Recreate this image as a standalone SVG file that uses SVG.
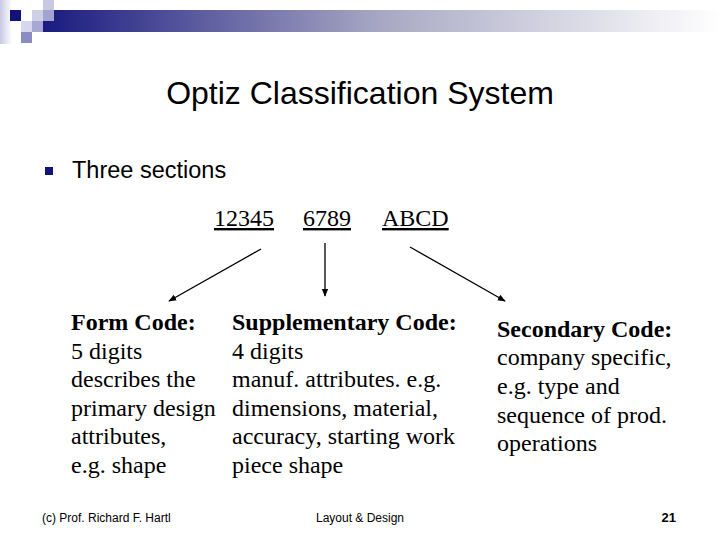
<svg xmlns="http://www.w3.org/2000/svg" width="720" height="540" viewBox="0 0 720 540">
<defs>
<linearGradient id="bar" x1="0" y1="0" x2="1" y2="0">
<stop offset="0" stop-color="#1a1a80"/>
<stop offset="0.5" stop-color="#a8a8c4"/>
<stop offset="1" stop-color="#ffffff"/>
</linearGradient>
<linearGradient id="side" x1="0" y1="0" x2="1" y2="0">
<stop offset="0" stop-color="#c8c8e4"/>
<stop offset="1" stop-color="#ffffff"/>
</linearGradient>
<marker id="ah" viewBox="0 0 10 10" refX="9" refY="5" markerWidth="8" markerHeight="8" markerUnits="userSpaceOnUse" orient="auto">
<path d="M0,1 L10,5 L0,9 z" fill="#000"/>
</marker>
<style>
.ti{font-family:"Liberation Sans",Arial,sans-serif;font-size:32px;fill:#000}
.bu{font-family:"Liberation Sans",Arial,sans-serif;font-size:23.5px;fill:#000}
.tm{font-family:"Liberation Serif","Times New Roman",serif;font-size:24px;fill:#000}
.b{font-weight:bold}
.u{text-decoration:underline}
.ft{font-family:"Liberation Sans",Arial,sans-serif;font-size:12px;fill:#000}
.pg{font-size:13px}
.cn line{stroke:#000;stroke-width:1.3;marker-end:url(#ah)}
</style>
</defs>
<rect width="720" height="540" fill="#fff"/>
<g id="header">
<rect x="0" y="0" width="12" height="44" fill="url(#side)"/>
<rect x="43" y="10" width="677" height="22" fill="url(#bar)"/>
<rect x="10" y="10" width="11" height="11" fill="#12127a"/>
<rect x="32" y="10" width="11" height="11" fill="#cfcfe8"/>
<rect x="43" y="0" width="11" height="10" fill="#c8c8e2"/>
<rect x="43" y="10" width="11" height="11" fill="#a4a4d0"/>
<rect x="21" y="21" width="11" height="11" fill="#d6d6ec"/>
<rect x="32" y="21" width="11" height="11" fill="#a8a8d4"/>
<rect x="21" y="32" width="11" height="11" fill="#8c8cc4"/>
</g>
<g id="title"><text class="ti" x="360" y="104" text-anchor="middle">Optiz Classification System</text></g>
<g id="bullet">
<rect x="45" y="167" width="8" height="8" fill="#12127a"/>
<text class="bu" x="72" y="178">Three sections</text>
</g>
<g id="codes">
<text class="tm u" x="214" y="226">12345</text>
<text class="tm u" x="303" y="226">6789</text>
<text class="tm u" x="382" y="226">ABCD</text>
</g>
<g id="connectors" class="cn">
<line x1="261" y1="249" x2="169" y2="301"/>
<line x1="325" y1="243" x2="325" y2="296"/>
<line x1="410" y1="247" x2="505" y2="301"/>
</g>
<g id="form-code">
<text class="tm" x="71" y="330"><tspan class="b">Form Code:</tspan><tspan x="71" y="359">5 digits</tspan><tspan x="71" y="387">describes the</tspan><tspan x="71" y="416">primary design</tspan><tspan x="71" y="444">attributes,</tspan><tspan x="71" y="473">e.g. shape</tspan></text>
</g>
<g id="supplementary-code">
<text class="tm" x="232" y="330"><tspan class="b">Supplementary Code:</tspan><tspan x="232" y="359">4 digits</tspan><tspan x="232" y="387">manuf. attributes. e.g.</tspan><tspan x="232" y="416">dimensions, material,</tspan><tspan x="232" y="444">accuracy, starting work</tspan><tspan x="232" y="473">piece shape</tspan></text>
</g>
<g id="secondary-code">
<text class="tm" x="497" y="337"><tspan class="b">Secondary Code:</tspan><tspan x="497" y="365">company specific,</tspan><tspan x="497" y="394">e.g. type and</tspan><tspan x="497" y="423">sequence of prod.</tspan><tspan x="497" y="451">operations</tspan></text>
</g>
<g id="footer">
<text class="ft" x="42" y="522">(c) Prof. Richard F. Hartl</text>
<text class="ft" x="360" y="522" text-anchor="middle">Layout &amp; Design</text>
<text class="ft pg b" x="676" y="522" text-anchor="end">21</text>
</g>
</svg>
